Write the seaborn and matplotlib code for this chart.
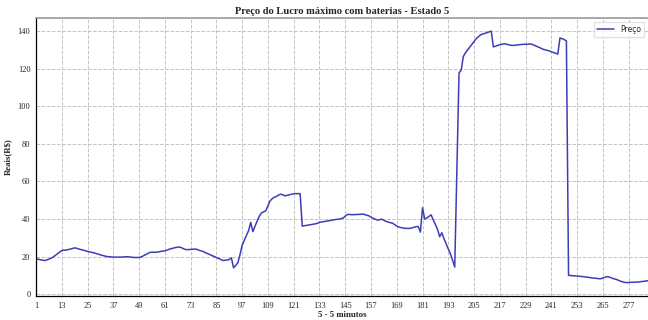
import numpy as np
import pandas as pd
import matplotlib
matplotlib.use("Agg")
import matplotlib.pyplot as plt
import seaborn as sns

# price per 5-minute step (288 steps)
preco = [
    18.8, 18.6, 18.3, 18.1, 17.9, 18.2, 18.6, 19.1, 19.8, 20.6, 21.5, 22.4,
    23.2, 23.4, 23.5, 23.7, 24.0, 24.3, 24.6, 24.4, 24.0, 23.7, 23.4, 23.1,
    22.7, 22.5, 22.2, 22.0, 21.6, 21.3, 20.9, 20.6, 20.3, 20.0, 19.9, 19.8,
    19.7, 19.7, 19.7, 19.7, 19.7, 19.8, 19.9, 19.9, 19.7, 19.6, 19.5, 19.5,
    19.5, 19.8, 20.4, 21.0, 21.6, 22.2, 22.3, 22.3, 22.3, 22.5, 22.7, 22.9,
    23.0, 23.4, 23.9, 24.2, 24.5, 24.8, 25.0, 25.0, 24.6, 24.0, 23.7, 23.7,
    23.8, 23.9, 24.0, 23.8, 23.3, 23.0, 22.6, 22.0, 21.5, 21.0, 20.5, 20.0,
    19.5, 19.0, 18.5, 17.9, 18.0, 18.2, 18.4, 19.3, 14.0, 15.3, 16.7, 21.0,
    26.0, 28.7, 31.3, 33.8, 38.2, 33.3, 36.2, 39.0, 41.5, 43.2, 43.8, 44.4,
    47.0, 49.6, 50.8, 51.6, 52.0, 52.8, 53.2, 52.8, 52.3, 52.6, 52.9, 53.2,
    53.4, 53.5, 53.5, 53.5, 36.2, 36.4, 36.6, 36.8, 37.0, 37.2, 37.4, 37.7,
    38.2, 38.4, 38.6, 38.8, 39.0, 39.2, 39.4, 39.6, 39.8, 39.9, 40.2, 40.5,
    41.5, 42.4, 42.4, 42.3, 42.3, 42.4, 42.4, 42.5, 42.6, 42.4, 42.0, 41.7,
    41.0, 40.3, 39.9, 39.4, 39.6, 39.9, 39.3, 38.7, 38.4, 38.0, 37.8, 37.0,
    36.2, 35.7, 35.4, 35.2, 35.0, 35.0, 35.0, 35.2, 35.6, 35.9, 36.0, 33.0,
    46.0, 40.0, 40.5, 41.4, 42.2, 39.5, 37.0, 34.5, 30.5, 32.7, 29.5, 26.7,
    24.0, 21.4, 18.0, 14.4, 66.0, 117.8, 119.2, 126.5, 128.5, 130.0, 131.5, 133.0,
    134.5, 136.0, 137.0, 138.0, 138.5, 138.8, 139.2, 139.6, 140.0, 131.6, 132.0, 132.4,
    132.8, 133.0, 133.3, 133.1, 132.8, 132.5, 132.4, 132.5, 132.6, 132.8, 132.9, 133.0,
    133.0, 133.0, 133.2, 133.0, 132.5, 132.0, 131.5, 131.0, 130.4, 130.1, 129.8, 129.5,
    129.0, 128.6, 128.2, 127.8, 136.4, 136.0, 135.5, 134.8, 10.0, 9.9, 9.8, 9.7,
    9.6, 9.5, 9.4, 9.3, 9.1, 9.0, 8.8, 8.6, 8.5, 8.4, 8.2, 8.2,
    8.6, 9.0, 9.3, 9.1, 8.6, 8.2, 7.9, 7.5, 7.0, 6.6, 6.3, 6.1,
    6.2, 6.3, 6.3, 6.4, 6.4, 6.5, 6.7, 6.8, 7.0, 7.2, 7.3, 7.4,
]
passo = list(range(1, len(preco) + 1))
xticks = list(range(1, 278, 12))
yticks = [0, 20, 40, 60, 80, 100, 120, 140]

df = pd.DataFrame({"passo": passo, "preco": preco})

sns.set_style("white")
plt.rcParams['font.family'] = ['Liberation Serif', 'DejaVu Serif']

fig = plt.figure(figsize=(6.48, 3.2), dpi=100)
ax = fig.add_axes([36 / 648, 1 - 296 / 320, 1 - 36 / 648, (296 - 18) / 320])

sns.lineplot(data=df, x="passo", y="preco", ax=ax, color="#3d3db8",
             linewidth=1.1, label="Preço")

ax.set_xlim(1, 286)
ax.set_ylim(-1, 147)
ax.set_xticks(xticks)
ax.set_yticks(yticks)
ax.tick_params(axis="both", labelsize=6, length=2.5, width=1.2, color="black",
               direction="out", pad=1.5)
ax.grid(True, linestyle="--", color="#c4c4c4", linewidth=0.7)

for s in ["left", "bottom"]:
    ax.spines[s].set_color("black")
    ax.spines[s].set_linewidth(0.9)
ax.spines["top"].set_color("#999999")
ax.spines["top"].set_linewidth(1.2)
ax.spines["right"].set_visible(False)

ax.set_title("Preço do Lucro máximo com baterias - Estado 5", fontsize=7.6,
             fontweight="bold", pad=3)
ax.set_xlabel("5 - 5 minutos", fontsize=6.3, fontweight="bold", labelpad=1)
ax.set_ylabel("Reais(R$)", fontsize=6.3, fontweight="bold", labelpad=4)

leg = ax.legend(loc="upper right", prop={"family": "DejaVu Sans", "size": 5.5},
                frameon=True, fancybox=False, handlelength=2.2)
leg.get_frame().set_edgecolor("#dddddd")

fig.savefig("out.png", dpi=100)
